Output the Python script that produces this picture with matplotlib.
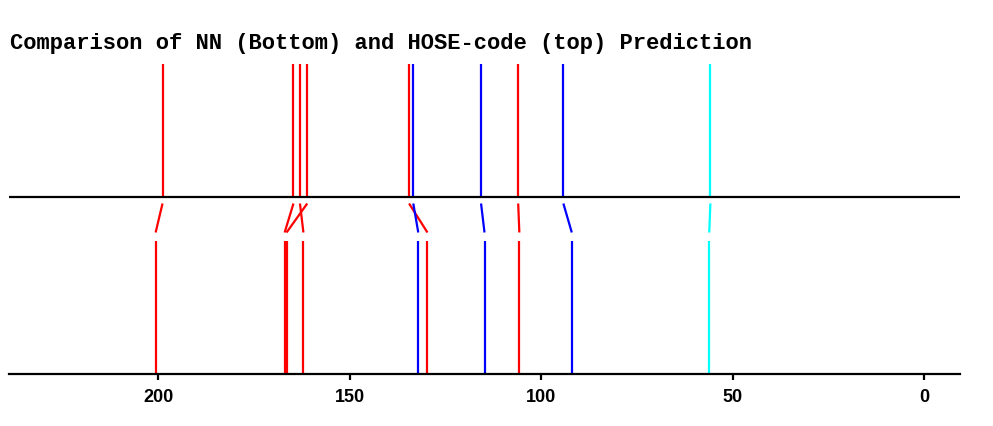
import numpy as np, matplotlib
matplotlib.use('Agg')
import matplotlib.pyplot as plt

# peak positions (ppm): HOSE-code prediction (top) and NN prediction (bottom)
hose_ppm = [198.9, 164.7, 163.0, 161.1, 134.5, 133.4, 115.7, 106.0, 94.2, 55.8]
nn_ppm   = [200.7, 167.0, 162.1, 166.5, 129.7, 132.1, 114.8, 105.7, 92.0, 56.1]
colors   = ['red', 'red', 'red', 'red', 'red', 'blue', 'blue', 'red', 'blue', 'cyan']
ticks    = [200, 150, 100, 50, 0]
title    = 'Comparison of NN (Bottom) and HOSE-code (top) Prediction'

W, H = 993, 426
fig = plt.figure(figsize=(W/100., H/100.), dpi=100)
# axes box in pixels: x 9..960, y 64..374
ax = fig.add_axes([9./W, (H-374.)/H, (960.-9.)/W, (374.-64.)/H])
ax.set_xlim(239.0, -9.4)
ax.set_ylim(0, 1)

mid = (374.-197.)/310.
c_top = (374.-203.5)/310.
c_bot = (374.-232.5)/310.
b_top = (374.-240.5)/310.

for h, n, c in zip(hose_ppm, nn_ppm, colors):
    ax.plot([h, h], [mid, 1.0], color=c, lw=1.6, solid_capstyle='butt')
    ax.plot([h, n], [c_top, c_bot], color=c, lw=1.6, solid_capstyle='butt')
    ax.plot([n, n], [0, b_top], color=c, lw=1.6, solid_capstyle='butt')

ax.axhline(mid, color='black', lw=1.6)

for s in ['top', 'left', 'right']:
    ax.spines[s].set_visible(False)
ax.spines['bottom'].set_linewidth(1.6)
ax.set_yticks([])
ax.set_xticks(ticks)
ax.set_xticklabels([str(t) for t in ticks], fontdict={'family': 'Liberation Sans', 'weight': 'bold', 'size': 13})
ax.tick_params(axis='x', length=4, width=1.6, pad=7)

fig.text(10./W, 1-49.5/H, title, family='Liberation Mono', weight='bold', size=15.9,
         ha='left', va='baseline')

fig.savefig('out.png', dpi=100)
